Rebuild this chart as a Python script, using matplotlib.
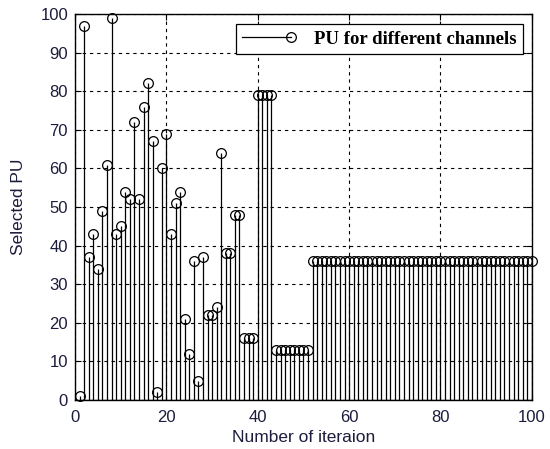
import matplotlib

matplotlib.use("Agg")
import matplotlib.pyplot as plt
import numpy as np
from matplotlib.legend_handler import HandlerLine2DCompound
from matplotlib.lines import Line2D

# selected PU per iteration
iterations = np.arange(1, 101)
pu_head = [1, 97, 37, 43, 34, 49, 61, 99, 43, 45,
           54, 52, 72, 52, 76, 82, 67, 2, 60, 69,
           43, 51, 54, 21, 12, 36, 5, 37, 22, 22,
           24, 64, 38, 38, 48, 48, 16, 16, 16, 79,
           79, 79, 79]
pu_mid = [13] * 8          # iterations 44-51
pu_tail = [36] * 49        # iterations 52-100
selected_pu = np.array(pu_head + pu_mid + pu_tail)

x_ticks = [0, 20, 40, 60, 80, 100]
y_ticks = list(range(0, 101, 10))

tick_color = "#1c1c3c"


class StemLegendHandler(HandlerLine2DCompound):
    """Line with the marker sitting at its right end, like a stem entry."""

    def get_xdata(self, legend, xdescent, ydescent, width, height, fontsize):
        xdata = np.array([-xdescent, -xdescent + width])
        return xdata, np.array([-xdescent + width])


fig = plt.figure(figsize=(5.5, 4.49), dpi=100)
ax = fig.add_axes([0.1364, 0.109, 0.8306, 0.860])

markerline, stemlines, baseline = ax.stem(
    iterations, selected_pu, linefmt="k-", markerfmt="ko", basefmt="k-",
)
stemlines.set_linewidth(0.9)
markerline.set_markerfacecolor("none")
markerline.set_markeredgecolor("black")
markerline.set_markersize(7)
markerline.set_markeredgewidth(0.9)
markerline.set_clip_on(False)
baseline.set_linewidth(0.9)

ax.set_xlim(0, 100)
ax.set_ylim(0, 100)
ax.set_xticks(x_ticks)
ax.set_yticks(y_ticks)
ax.grid(True, color="black", linestyle=(0, (3, 3.5)), linewidth=0.8)
ax.set_axisbelow(True)
ax.tick_params(direction="in", length=4, width=0.8, labelsize=12,
               labelcolor=tick_color, top=True, right=True)
ax.tick_params(axis="x", pad=7)
ax.tick_params(axis="y", pad=5)
for lbl in ax.get_xticklabels() + ax.get_yticklabels():
    lbl.set_family(["Liberation Sans", "DejaVu Sans"])
for spine in ax.spines.values():
    spine.set_linewidth(1.0)

ax.set_xlabel("Number of iteraion", fontsize=12.5, family="Liberation Sans",
              color=tick_color)
ax.set_ylabel("Selected PU", fontsize=12.5, family="Liberation Sans",
              color=tick_color)
ax.xaxis.set_label_coords(0.5, -0.078)
ax.yaxis.set_label_coords(-0.107, 0.5)

legend_proxy = Line2D([], [], color="black", linewidth=0.9, marker="o",
                      markersize=7, markerfacecolor="none",
                      markeredgecolor="black", markeredgewidth=0.9)
leg = ax.legend(
    handles=[legend_proxy], labels=["PU for different channels"],
    handler_map={legend_proxy: StemLegendHandler()},
    loc="upper right", bbox_to_anchor=(0.980, 0.974),
    prop={"family": "Liberation Serif", "weight": "bold", "size": 13.5},
    fancybox=False, framealpha=1, edgecolor="black",
    handlelength=2.6, borderpad=0.35, borderaxespad=0,
    handletextpad=1.2,
)
leg.get_frame().set_linewidth(0.9)

fig.savefig("out.png", dpi=100)
